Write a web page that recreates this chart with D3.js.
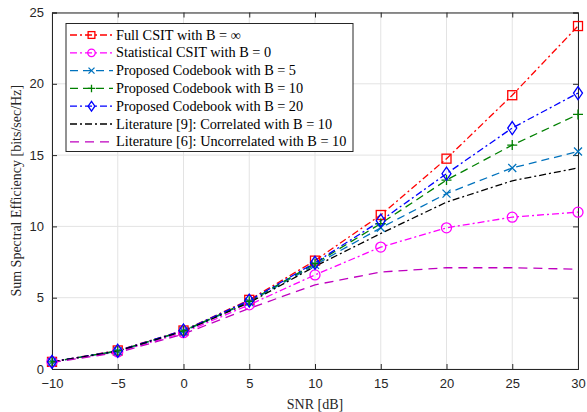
<!DOCTYPE html>
<html>
<head>
<meta charset="utf-8">
<script src="https://cdn.jsdelivr.net/npm/d3@7"></script>
<style>
  body { margin: 0; background: #fff; }
  svg { display: block; }
</style>
</head>
<body>
<div id="chart"></div>
<script>
// SNR points (dB)
const snr = [-10, -5, 0, 5, 10, 15, 20, 25, 30];
const xTicks = [-10, -5, 0, 5, 10, 15, 20, 25, 30];
const yTicks = [0, 5, 10, 15, 20, 25];

// series values
const fullCsit = [0.5, 1.3, 2.7, 4.85, 7.6, 10.8, 14.75, 19.2, 24.05];
const statCsit = [0.5, 1.2, 2.55, 4.5, 6.6, 8.55, 9.9, 10.65, 11.0];
const codeB5 = [0.5, 1.25, 2.65, 4.7, 7.3, 9.9, 12.3, 14.1, 15.25];
const codeB10 = [0.5, 1.27, 2.68, 4.75, 7.4, 10.2, 13.25, 15.7, 17.85];
const codeB20 = [0.5, 1.28, 2.7, 4.8, 7.45, 10.4, 13.7, 16.9, 19.35];
const lit9 = [0.5, 1.25, 2.65, 4.65, 7.2, 9.5, 11.7, 13.2, 14.1];
const lit6 = [0.45, 1.15, 2.45, 4.25, 5.9, 6.8, 7.1, 7.1, 7.0];

const series = [
  { name: 'Full CSIT with B = \u221E', values: fullCsit, color: '#ff0000', dash: '7,3,2,3', marker: 'square' },
  { name: 'Statistical CSIT with B = 0', values: statCsit, color: '#ff00ff', dash: '7,3,2,3', marker: 'circle' },
  { name: 'Proposed Codebook with B = 5', values: codeB5, color: '#0072bd', dash: '8,5', marker: 'x' },
  { name: 'Proposed Codebook with B = 10', values: codeB10, color: '#008000', dash: '8,5', marker: 'plus' },
  { name: 'Proposed Codebook with B = 20', values: codeB20, color: '#0000ff', dash: '7,3,2,3', marker: 'diamond' },
  { name: 'Literature [9]: Correlated with B = 10', values: lit9, color: '#000000', dash: '7,3,2,3', marker: null },
  { name: 'Literature [6]: Uncorrelated with B = 10', values: lit6, color: '#bf00bf', dash: '9,6', marker: null }
];

const W = 587, H = 412;
const margin = { top: 12.5, right: 9, bottom: 43, left: 52 };
const width = W - margin.left - margin.right;
const height = H - margin.top - margin.bottom;

const svg = d3.select('#chart').append('svg')
  .attr('width', W)
  .attr('height', H);

const g = svg.append('g')
  .attr('transform', 'translate(' + margin.left + ',' + margin.top + ')');

const x = d3.scaleLinear().domain([-10, 30]).range([0, width]);
const y = d3.scaleLinear().domain([0, 25]).range([height, 0]);

// grid
g.append('g').selectAll('line').data(xTicks).enter().append('line')
  .attr('x1', d => x(d)).attr('x2', d => x(d))
  .attr('y1', 0).attr('y2', height)
  .attr('stroke', '#e3e3e3').attr('stroke-width', 1);
g.append('g').selectAll('line').data(yTicks).enter().append('line')
  .attr('y1', d => y(d)).attr('y2', d => y(d))
  .attr('x1', 0).attr('x2', width)
  .attr('stroke', '#e3e3e3').attr('stroke-width', 1);

// axes, ticks inside
const tickFont = '"Liberation Sans", Arial, sans-serif';
const xAxis = g.append('g')
  .attr('transform', 'translate(0,' + height + ')')
  .call(d3.axisBottom(x).tickValues(xTicks).tickSize(-5).tickPadding(10));
const yAxis = g.append('g')
  .call(d3.axisLeft(y).tickValues(yTicks).tickSize(-5).tickPadding(8));
const xTop = g.append('g')
  .call(d3.axisTop(x).tickValues(xTicks).tickSize(-5).tickFormat(''));
const yRight = g.append('g')
  .attr('transform', 'translate(' + width + ',0)')
  .call(d3.axisRight(y).tickValues(yTicks).tickSize(-5).tickFormat(''));

[xAxis, yAxis, xTop, yRight].forEach(a => {
  a.select('.domain').attr('stroke', '#262626');
  a.selectAll('.tick line').attr('stroke', '#262626');
  a.selectAll('.tick text')
    .attr('fill', '#262626')
    .style('font-family', tickFont)
    .style('font-size', '13px');
});

// lines
const line = d3.line()
  .x((d, i) => x(snr[i]))
  .y(d => y(d));

series.forEach(s => {
  g.append('path')
    .datum(s.values)
    .attr('fill', 'none')
    .attr('stroke', s.color)
    .attr('stroke-width', 1.3)
    .attr('stroke-dasharray', s.dash)
    .attr('d', line);
});

// k scales the marker (legend markers are smaller)
function drawMarker(sel, type, color, cx, cy, k) {
  if (type === 'square') {
    const h = 4.5 * k;
    sel.append('rect').attr('x', cx - h).attr('y', cy - h).attr('width', 2 * h).attr('height', 2 * h)
      .attr('fill', 'none').attr('stroke', color).attr('stroke-width', 1.3);
  } else if (type === 'circle') {
    sel.append('circle').attr('cx', cx).attr('cy', cy).attr('r', 5 * k)
      .attr('fill', 'none').attr('stroke', color).attr('stroke-width', 1.3);
  } else if (type === 'diamond') {
    const w = 4.5 * k, h = 6.5 * k;
    sel.append('path')
      .attr('d', 'M' + cx + ',' + (cy - h) + 'L' + (cx + w) + ',' + cy + 'L' + cx + ',' + (cy + h) + 'L' + (cx - w) + ',' + cy + 'Z')
      .attr('fill', 'none').attr('stroke', color).attr('stroke-width', 1.3);
  } else if (type === 'plus') {
    const h = 5 * k;
    sel.append('path')
      .attr('d', 'M' + (cx - h) + ',' + cy + 'H' + (cx + h) + 'M' + cx + ',' + (cy - h) + 'V' + (cy + h))
      .attr('stroke', color).attr('stroke-width', 1.3);
  } else if (type === 'x') {
    const h = 4 * k;
    sel.append('path')
      .attr('d', 'M' + (cx - h) + ',' + (cy - h) + 'L' + (cx + h) + ',' + (cy + h) +
        'M' + (cx - h) + ',' + (cy + h) + 'L' + (cx + h) + ',' + (cy - h))
      .attr('stroke', color).attr('stroke-width', 1.3);
  }
}

series.forEach(s => {
  if (!s.marker) return;
  const mg = g.append('g');
  s.values.forEach((v, i) => drawMarker(mg, s.marker, s.color, x(snr[i]), y(v), 1));
});

// axis labels
const serif = '"Liberation Serif", "Times New Roman", serif';
svg.append('text')
  .attr('x', margin.left + width / 2)
  .attr('y', 409)
  .attr('text-anchor', 'middle')
  .style('font-family', serif)
  .style('font-size', '14px')
  .attr('fill', '#262626')
  .text('SNR [dB]');

svg.append('text')
  .attr('transform', 'translate(21,' + (margin.top + height / 2) + ') rotate(-90)')
  .attr('text-anchor', 'middle')
  .style('font-family', serif)
  .style('font-size', '14px')
  .attr('fill', '#262626')
  .text('Sum Spectral Efficiency [bits/sec/Hz]');

// legend
const legend = svg.append('g').attr('transform', 'translate(66,23.5)');
legend.append('rect')
  .attr('width', 287).attr('height', 128)
  .attr('fill', '#fff').attr('stroke', '#262626').attr('stroke-width', 1);

series.forEach((s, i) => {
  const ly = 11.5 + i * 17.8;
  legend.append('line')
    .attr('x1', 4).attr('x2', 47)
    .attr('y1', ly).attr('y2', ly)
    .attr('stroke', s.color).attr('stroke-width', 1.3)
    .attr('stroke-dasharray', s.dash);
  if (s.marker) drawMarker(legend, s.marker, s.color, 25.5, ly, 0.75);
  legend.append('text')
    .attr('x', 50).attr('y', ly + 4.5)
    .style('font-family', serif)
    .style('font-size', '14.3px')
    .attr('fill', '#000')
    .text(s.name);
});
</script>
</body>
</html>
